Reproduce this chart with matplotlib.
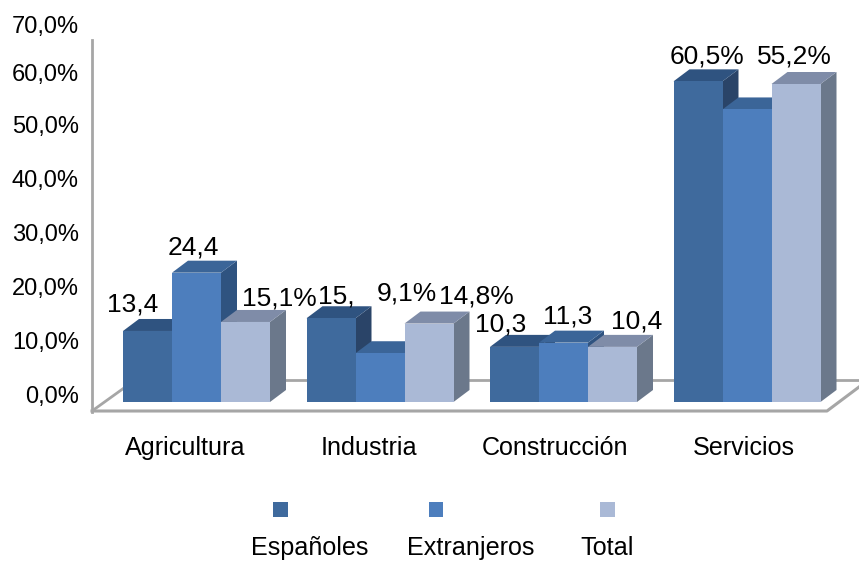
import numpy as np
from matplotlib import pyplot as plt
from matplotlib.patches import Rectangle

plt.rcParams['font.family'] = ['Liberation Sans', 'DejaVu Sans']

categories = ["Agricultura", "Industria", "Construcción", "Servicios"]
series_names = ["Españoles", "Extranjeros", "Total"]
espanoles = [13.4, 15.8, 10.4, 60.5]
extranjeros = [24.4, 9.2, 11.2, 55.2]
total = [15.1, 14.8, 10.4, 60.0]
espanoles_labels = ["13,4", "15,", "10,3", "60,5%"]
extranjeros_labels = ["24,4", "9,1%", "11,3", "55,2%"]
total_labels = ["15,1%", "14,8%", "10,4", None]
ytick_labels = ["0,0%", "10,0%", "20,0%", "30,0%", "40,0%", "50,0%", "60,0%", "70,0%"]

W, H = 859, 562
PX_X = 183.5    # pixels per category
PX_Y = 5.3      # pixels per percent
BASE_Y = 402
FIRST_X = 196.5
BAR_W = 49 / PX_X
DEPTH_X = 16 / PX_X
DEPTH_Y = 12 / PX_Y

# face, top, side
colors = [("#3f6a9d", "#2f5380", "#2a4468"),
          ("#4d7ebd", "#3b6598", "#2f5380"),
          ("#aab9d6", "#7f8ca8", "#6b788b")]
GRID = "#a6a6a6"
FS = 18.1
FS_VALUE = 19
FS_YTICK = 17

# label offsets from the top of each bar, in pixels
label_offsets = [[(-14.5, 26), (5, 22), (-13.5, 22), (9, 25)],
                 [(-3.5, 25), (27, 60), (4.5, 26), (47, 53)],
                 [(34, 23), (47.5, 27), (24, 25), (0, 0)]]
ytick_px = [394, 340, 286, 233, 179, 125, 73, 25]
xlabel_shift = [-11, -11, -8.5, -3]


def data_x(px):
    return (px - FIRST_X) / PX_X


def data_y(px):
    return (BASE_Y - px) / PX_Y


fig = plt.figure(figsize=(W / 100, H / 100), dpi=100)
ax = fig.add_axes([92 / W, (H - 412) / H, (W - 92) / W, (412 - 10) / H])
for name in ["top", "right", "bottom"]:
    ax.spines[name].set_visible(False)
ax.spines["left"].set_color(GRID)
ax.spines["left"].set_linewidth(2)
ax.spines["left"].set_bounds(data_y(412), data_y(40))

# floor of the 3d box
ax.plot([data_x(92), data_x(827), data_x(859)], [data_y(411), data_y(411), data_y(387)], color=GRID, lw=2.2, zorder=1, clip_on=False)
ax.plot([data_x(92), data_x(124)], [data_y(411), data_y(388)], color=GRID, lw=2, zorder=1)
ax.plot([data_x(124), data_x(W)], [data_y(380)] * 2, color=GRID, lw=2, zorder=1)

series = [espanoles, extranjeros, total]
labels = [espanoles_labels, extranjeros_labels, total_labels]
z = 2
for i in range(len(categories)):
    for j, values in enumerate(series):
        face, top, side = colors[j]
        v = values[i]
        left = i + (j - 1.5) * BAR_W
        right = left + BAR_W
        ax.fill([right, right + DEPTH_X, right + DEPTH_X, right],
                [0, DEPTH_Y, v + DEPTH_Y, v], color=side, lw=0, zorder=z)
        ax.fill([left, left + DEPTH_X, right + DEPTH_X, right],
                [v, v + DEPTH_Y, v + DEPTH_Y, v], color=top, lw=0, zorder=z)
        ax.bar(left, v, BAR_W, align="edge", color=face, lw=0, zorder=z)
        z += 1

for i in range(len(categories)):
    for j, values in enumerate(series):
        if labels[j][i] is None:
            continue
        ax.annotate(labels[j][i], xy=(i + (j - 1) * BAR_W, values[i]),
                    xytext=label_offsets[j][i], textcoords="offset pixels",
                    ha="center", va="center", fontsize=FS_VALUE, color="black", zorder=100)

ax.set_yticks([data_y(p) for p in ytick_px])
ax.set_yticklabels(ytick_labels, fontsize=FS_YTICK)
ax.set_xticks([i + s / PX_X for i, s in enumerate(xlabel_shift)])
ax.set_xticklabels(categories, fontsize=FS)
ax.tick_params(axis="y", length=0, pad=9.5)
ax.tick_params(axis="x", length=0, pad=17)
# limits last, set_yticks would widen them otherwise
ax.set_xlim(data_x(92), data_x(W))
ax.set_ylim(data_y(412), data_y(10))

# legend: swatches above the names
legend_x = [280, 436, 607]
legend_text_x = [310, 471, 607]
for name, col, sx, tx in zip(series_names, colors, legend_x, legend_text_x):
    fig.add_artist(Rectangle(((sx - 7.5) / W, (H - 516.5) / H), 15 / W, 15 / H,
                             transform=fig.transFigure, color=col[0], lw=0))
    fig.text(tx / W, (H - 548) / H, name, ha="center", va="center", fontsize=FS)

fig.savefig("out.png", dpi=100)
